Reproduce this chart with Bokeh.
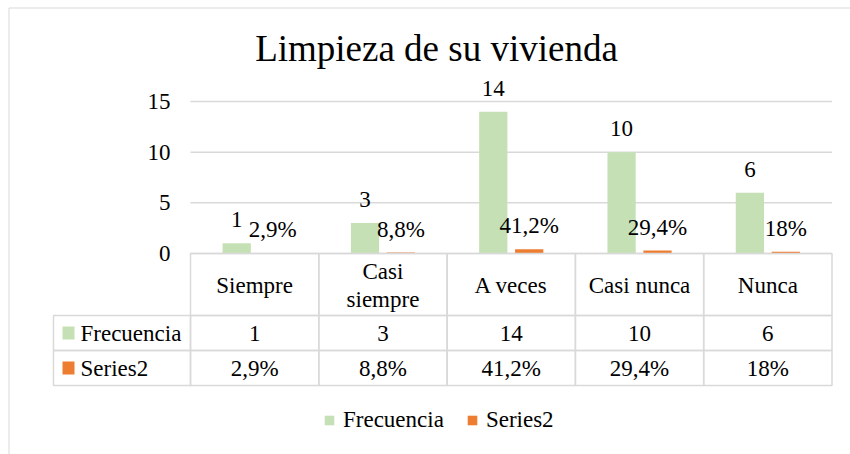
from bokeh.plotting import figure
from bokeh.models import (ColumnDataSource, Range1d, FixedTicker, Label, Legend, LegendItem)
from bokeh.core.properties import value
from bokeh.transform import dodge
from bokeh.embed import file_html
from bokeh.resources import INLINE

# ---------------- data ----------------
title_text = "Limpieza de su vivienda"
categories = ["Siempre", "Casi siempre", "A veces", "Casi nunca", "Nunca"]
category_display = ["Siempre", "Casi\nsiempre", "A veces", "Casi nunca", "Nunca"]
series_names = ["Frecuencia", "Series2"]
frecuencia = [1, 3, 14, 10, 6]
series2 = [0.029, 0.088, 0.412, 0.294, 0.18]
series2_labels = ["2,9%", "8,8%", "41,2%", "29,4%", "18%"]
y_ticks = [0, 5, 10, 15]

# ---------------- styling / layout ----------------
FONT = "Liberation Serif"
FS = "23px"
TXT = "#000000"
GREEN = "#c5e0b4"
ORANGE = "#ed7d31"
GRID = "#d9d9d9"
W, H = 850, 454
FL, FR, FT, FB = 190, 831.5, 101, 253      # plot-area edges in canvas pixels
n = len(categories)
YMAX = y_ticks[-1]
XPX = (FR - FL) / n
YPX = (FB - FT) / YMAX


def xd(px):
    return (px - FL) / XPX


def yd(py):
    return (FB - py) / YPX


p = figure(width=W, height=H, title=None,
           x_range=Range1d(xd(0), xd(W)), y_range=Range1d(yd(H), yd(0)),
           output_backend="svg", toolbar_location=None,
           min_border_left=0, min_border_right=0,
           min_border_top=0, min_border_bottom=0)
p.outline_line_color = None
p.background_fill_color = "white"
p.border_fill_color = "white"
p.xaxis.visible = False
p.xgrid.visible = False
p.ygrid.visible = False

ax = p.yaxis[0]
ax.fixed_location = 0
ax.ticker = FixedTicker(ticks=y_ticks)
ax.axis_line_color = None
ax.major_tick_line_color = None
ax.minor_tick_line_color = None
ax.major_tick_out = 0
ax.major_tick_in = 0
ax.major_label_standoff = 20
ax.major_label_text_font = FONT
ax.major_label_text_font_size = FS
ax.major_label_text_color = TXT

# horizontal gridlines across the plot area
p.segment(x0=0, x1=n, y0=y_ticks, y1=y_ticks, line_color=GRID, line_width=1.5)

# outer chart border (left and top edges)
p.segment(x0=[xd(8.5), xd(8.5)], y0=[yd(7.5), yd(7.5)],
          x1=[xd(8.5), xd(W + 10)], y1=[yd(H + 10), yd(7.5)],
          line_color=GRID, line_width=1)

src = ColumnDataSource(dict(
    x=[i + 0.5 for i in range(n)],
    cat=categories,
    disp=category_display,
    frec=frecuencia,
    frec_lab=[str(v) for v in frecuencia],
    s2=series2,
    s2_lab=series2_labels,
))

OFF = 0.14
BW = 0.22
green = p.vbar(x=dodge("x", -OFF), top="frec", width=BW, source=src,
               fill_color=GREEN, line_color=None)
orange = p.vbar(x=dodge("x", OFF), top="s2", width=BW, source=src,
                fill_color=ORANGE, line_color=None)

lab_kw = dict(text_font=value(FONT), text_font_size=FS, text_color=TXT,
              text_align="center", text_baseline="middle")
p.text(x=dodge("x", -OFF), y="frec", text="frec_lab", source=src,
       y_offset=-23.5, **lab_kw)
p.text(x=dodge("x", OFF), y="s2", text="s2_lab", source=src,
       y_offset=-23.5, **lab_kw)

# title
p.add_layout(Label(x=xd(436), y=yd(48.4), text=title_text, text_font=FONT,
                   text_font_size="37px", text_color=TXT, text_align="center",
                   text_baseline="middle"))

# ---------------- data table ----------------
ROW_CAT = (253, 315)
ROW_1 = (315, 350)
ROW_2 = (350, 385)
KEY_LEFT = 53
KEY_RIGHT = xd(KEY_LEFT)

cell_kw = dict(fill_alpha=0, line_color=GRID, line_width=1.5)
p.quad(left=list(range(n)), right=list(range(1, n + 1)),
       top=yd(ROW_CAT[0]), bottom=yd(ROW_CAT[1]), **cell_kw)
for row in (ROW_1, ROW_2):
    p.quad(left=[KEY_RIGHT] + list(range(n)), right=list(range(n + 1)),
           top=yd(row[0]), bottom=yd(row[1]), **cell_kw)

p.text(x="x", y=yd(sum(ROW_CAT) / 2 + 1), text="disp", source=src,
       text_line_height=1.12, **lab_kw)
p.text(x="x", y=yd(sum(ROW_1) / 2 + 0.5), text="frec_lab", source=src, **lab_kw)
p.text(x="x", y=yd(sum(ROW_2) / 2), text="s2_lab", source=src, **lab_kw)

key_rows = [ROW_1, ROW_2]
key_colors = [GREEN, ORANGE]
key_src = ColumnDataSource(dict(
    name=series_names,
    color=key_colors,
    cy=[yd(sum(r) / 2) for r in key_rows],
    top=[yd(sum(r) / 2 - 6.5) for r in key_rows],
    bottom=[yd(sum(r) / 2 + 6.5) for r in key_rows],
))
p.quad(left=xd(62), right=xd(74), top="top", bottom="bottom", fill_color="color",
       line_color=None, source=key_src)
p.text(x=xd(80), y="cy", text="name", source=key_src, text_font=value(FONT),
       text_font_size=FS, text_color=TXT, text_align="left",
       text_baseline="middle")

# ---------------- legend ----------------
legend = Legend(items=[LegendItem(label=series_names[0], renderers=[green]),
                       LegendItem(label=series_names[1], renderers=[orange])],
                orientation="horizontal", location=(323, H - 433),
                glyph_width=12, glyph_height=12, label_standoff=8, spacing=22,
                padding=0, margin=0, border_line_alpha=0, background_fill_alpha=0,
                label_text_font=FONT, label_text_font_size=FS,
                label_text_color=TXT)
p.add_layout(legend)

open("out.html", "w").write(file_html(p, INLINE))
